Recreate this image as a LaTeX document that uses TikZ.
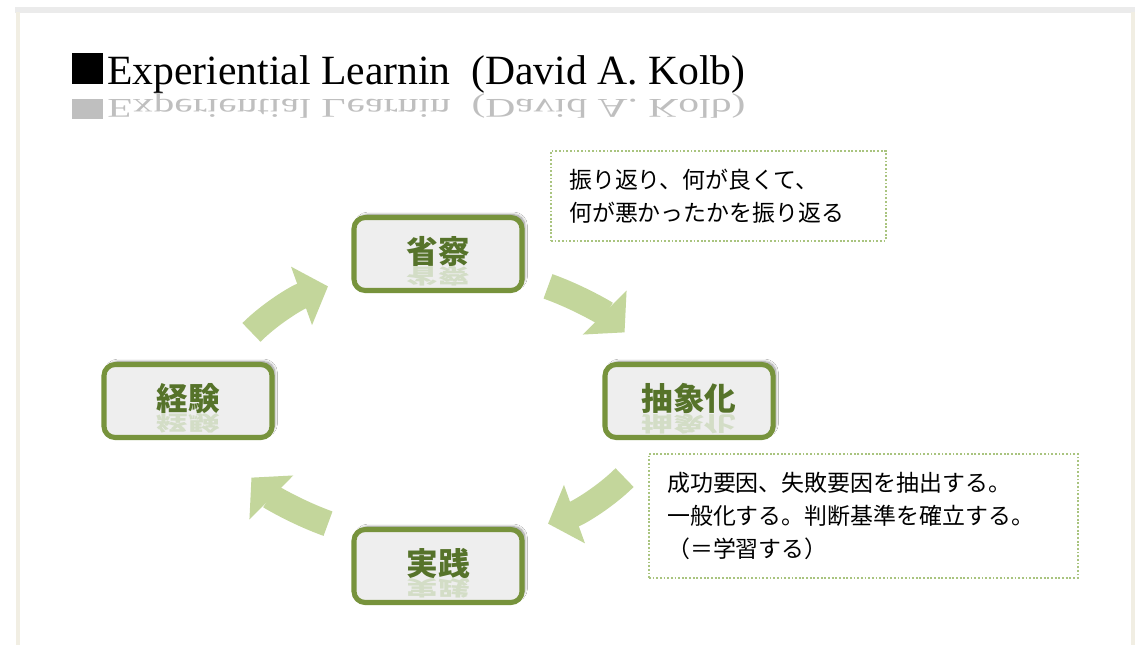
\documentclass[tikz,border=0pt]{standalone}
\usepackage{fontspec}
\setmainfont{Liberation Serif}
\newfontfamily\jpfont{Noto Sans CJK JP}
\usepackage{tikz}
\usetikzlibrary{arrows.meta,positioning,calc,shadows.blur}
\definecolor{kolbline}{HTML}{77933C}
\definecolor{kolbfill}{HTML}{EEEEEE}
\definecolor{kolbtext}{HTML}{56732A}
\definecolor{kolbmirror}{HTML}{D3DDC6}
\definecolor{kolbarrow}{HTML}{C3D69B}
\definecolor{kolbnote}{HTML}{A9C47F}
\definecolor{frametop}{HTML}{EBEBEB}
\definecolor{frameside}{HTML}{F1EEE3}
\tikzset{
  stage/.style={draw=kolbline,fill=kolbfill,line width=3.6pt,rounded corners=8pt,
    minimum width=4.2cm,minimum height=1.825cm,
    blur shadow={shadow xshift=2pt,shadow yshift=2pt,shadow blur steps=8,shadow opacity=45}},
  stagelabel/.style={text=kolbtext,inner sep=0pt,font=\jpfont\bfseries\fontsize{22.5}{26}\selectfont},
  stagemirror/.style={text=kolbmirror,inner sep=0pt,font=\jpfont\bfseries\fontsize{22.5}{26}\selectfont},
  note/.style={draw=kolbnote,dash pattern=on 1.3pt off 1.3pt,line width=1.3pt,fill=white,
    align=left,inner xsep=13pt,font=\jpfont\fontsize{16.3}{23.5}\selectfont},
  turnarrow/.style={draw=kolbarrow,line width=18.5pt,-{Triangle[length=20pt,width=43pt]}},
  ttl/.style={inner sep=0pt,font=\fontsize{29.6}{34}\selectfont},
}
\newcommand{\mirrortext}[1]{\scalebox{1}[-0.65]{#1}}
\newcommand{\kolbtitle}{\rule{22pt}{22pt}\hspace{3pt}Experiential Learnin\ \ (David A. Kolb)}

\begin{document}
\begin{tikzpicture}[x=0.025cm,y=-0.025cm]
\useasboundingbox (0,0) rectangle (1135,645);
\fill[white] (0,0) rectangle (1135,645);
% frame
\draw[frametop,line width=4.5pt] (15,10) -- (1135,10);
\draw[frameside,line width=3.5pt] (18,12) -- (18,645);
\draw[frameside,line width=3pt] (1133,12) -- (1133,645);
%
\node[ttl,anchor=base west] (ttl) at (72,84) {\kolbtitle};
\node[ttl,text=black!25,anchor=north west] at (ttl.south west) {\mirrortext{\kolbtitle}};
%
\coordinate (hub) at (438,405);
\foreach \a/\b in {-148/-120,-60/-32,32/60,120/148}
  \draw[turnarrow] ($(hub)+(\a:220 and 137)$) arc[start angle=\a,end angle=\b,x radius=220,y radius=137];
%
\node[stage] (ro) at (438,254) {};
\node[stage] (ac) at (689,401) {};
\node[stage] (ce) at (188,401) {};
\node[stage] (ae) at (438,566) {};
%
\node[stagelabel] (ro-l) at ([yshift=2pt]ro.center) {省察};
\node[stagelabel] (ac-l) at ([yshift=2pt]ac.center) {抽象化};
\node[stagelabel] (ce-l) at ([yshift=2pt]ce.center) {経験};
\node[stagelabel] (ae-l) at ([yshift=2pt]ae.center) {実践};
\node[stagemirror,anchor=north] at (ro-l.south) {\mirrortext{省察}};
\node[stagemirror,anchor=north] at (ac-l.south) {\mirrortext{抽象化}};
\node[stagemirror,anchor=north] at (ce-l.south) {\mirrortext{経験}};
\node[stagemirror,anchor=north] at (ae-l.south) {\mirrortext{実践}};
%
\node[note,text width=212pt,minimum height=2.25cm,anchor=north west] (ro-n) at (550,150)
  {振り返り、何が良くて、\\何が悪かったかを振り返る};
\node[note,text width=279pt,minimum height=3.1cm,anchor=north west] (ac-n) at (648,453)
  {成功要因、失敗要因を抽出する。\\一般化する。判断基準を確立する。\\（＝学習する）};
\end{tikzpicture}
\end{document}
